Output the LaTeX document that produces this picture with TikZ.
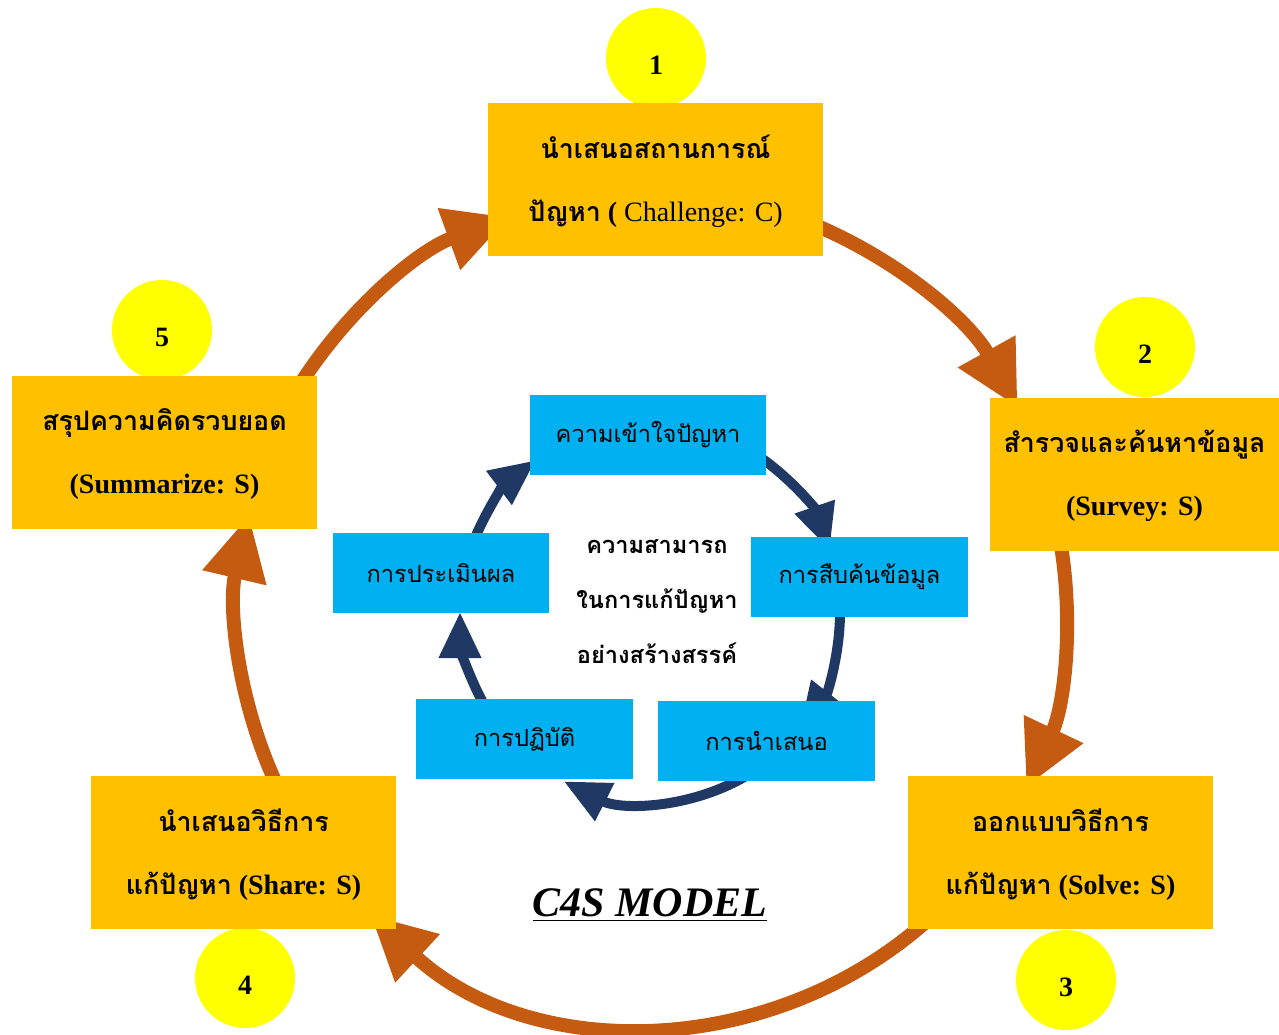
\documentclass[tikz,border=0pt]{standalone}
\usepackage{fontspec}
\setmainfont{Liberation Serif}
\newfontfamily\thaifont[Script=Thai]{Loma}
\newcommand\thx[1]{{\thaifont #1}}
\newcommand\bstrut{\rule[-5pt]{0pt}{20pt}}
\newcommand\numtxt[1]{\raisebox{-8pt}[0pt][0pt]{#1}}
\usetikzlibrary{arrows.meta}
\definecolor{boxorange}{HTML}{FFC000}
\definecolor{arrorange}{HTML}{C55A11}
\definecolor{numyellow}{HTML}{FFFF00}
\definecolor{boxcyan}{HTML}{00B0F0}
\definecolor{navy}{HTML}{1F3864}
\tikzset{
  outerbox/.style={fill=boxorange, draw=none, minimum width=#1, minimum height=76.5pt, inner sep=0pt, align=center, font=\bfseries\fontsize{14}{31.5}\selectfont},
  innerbox/.style={fill=boxcyan, draw=none, minimum width=#1, minimum height=40pt, inner sep=0pt, font=\fontsize{11.8}{16}\selectfont},
  numcircle/.style={circle, fill=numyellow, draw=none, minimum size=50pt, inner sep=0pt, font=\bfseries\fontsize{14}{16}\selectfont},
  outarrow/.style={draw=arrorange, line width=7pt, -{Triangle[width=31pt,length=32pt]}},
  inarrow/.style={draw=navy, line width=5pt, -{Triangle[width=20pt,length=23pt]}},
}
\newcommand\othai[1]{{\thaifont\fontsize{13.4}{31.5}\selectfont #1}}
\begin{document}
\begin{tikzpicture}[x=0.5pt,y=0.5pt]
\path[use as bounding box] (0,0) rectangle (1279,-1034);
\coordinate (O) at (652,-610);
\coordinate (I) at (650,-612);
% outer arrows
\draw[outarrow] ([shift={(150:418)}]O) arc[start angle=150,end angle=110,radius=418];
\draw[outarrow] ([shift={(70:418)}]O) arc[start angle=70,end angle=29,radius=418];
\draw[outarrow] ([shift={(12:414)}]O) arc[start angle=12,end angle=-25.3,radius=414];
\draw[outarrow] ([shift={(-45:415)}]O) arc[start angle=-45,end angle=-132.7,radius=415];
\draw[outarrow] ([shift={(205:414)}]O) arc[start angle=205,end angle=166.8,radius=414];
% inner arrows
\draw[inarrow] ([shift={(58:190)}]I) arc[start angle=58,end angle=19,radius=190];
\draw[inarrow] ([shift={(2:190)}]I) arc[start angle=2,end angle=-38,radius=190];
\draw[inarrow] ([shift={(-60:190)}]I) arc[start angle=-60,end angle=-117,radius=190];
\draw[inarrow] ([shift={(210:190)}]I) arc[start angle=210,end angle=180,radius=190];
\draw[inarrow] ([shift={(160:190)}]I) arc[start angle=160,end angle=127,radius=190];
% number circles
\node[numcircle] (n1) at (656,-58) {\numtxt{1}};
\node[numcircle] (n2) at (1145,-347) {\numtxt{2}};
\node[numcircle] (n3) at (1066,-980) {\numtxt{3}};
\node[numcircle] (n4) at (245,-978) {\numtxt{4}};
\node[numcircle] (n5) at (162,-330) {\numtxt{5}};
% outer boxes
\node[outerbox=167.5pt] (challenge) at (655.5,-179.5) {\bstrut\othai{นำเสนอสถานการณ์}\\\bstrut\othai{ปัญหา} ( \mdseries Challenge: C)};
\node[outerbox=144.5pt] (survey) at (1134.5,-474) {\bstrut\othai{สำรวจและค้นหาข้อมูล}\\\bstrut(Survey: S)};
\node[outerbox=152.5pt] (solve) at (1060.5,-852.5) {\bstrut\othai{ออกแบบวิธีการ}\\\bstrut\othai{แก้ปัญหา} (Solve: S)};
\node[outerbox=152.5pt] (share) at (243.5,-852.5) {\bstrut\othai{นำเสนอวิธีการ}\\\bstrut\othai{แก้ปัญหา} (Share: S)};
\node[outerbox=152.5pt] (summarize) at (164.5,-452) {\bstrut\othai{สรุปความคิดรวบยอด}\\\bstrut(Summarize: S)};
% inner boxes
\node[innerbox=118pt] (understand) at (648,-434.5) {\thx{ความเข้าใจปัญหา}};
\node[innerbox=108.5pt] (search) at (859.5,-577) {\thx{การสืบค้นข้อมูล}};
\node[innerbox=108.5pt] (present) at (766.5,-741) {\thx{การนำเสนอ}};
\node[innerbox=108.5pt] (practice) at (524.5,-739) {\thx{การปฏิบัติ}};
\node[innerbox=108pt] (evaluate) at (441,-573) {\thx{การประเมินผล}};
% center text
\node[align=center, font=\bfseries\fontsize{11.8}{27.5}\selectfont] (center) at (657,-602) {\thx{ความสามารถ}\\\thx{ในการแก้ปัญหา}\\\thx{อย่างสร้างสรรค์}};
\node[font=\bfseries\itshape\fontsize{21}{25}\selectfont] (title) at (650,-905) {\underline{C4S MODEL}};
\end{tikzpicture}
\end{document}
